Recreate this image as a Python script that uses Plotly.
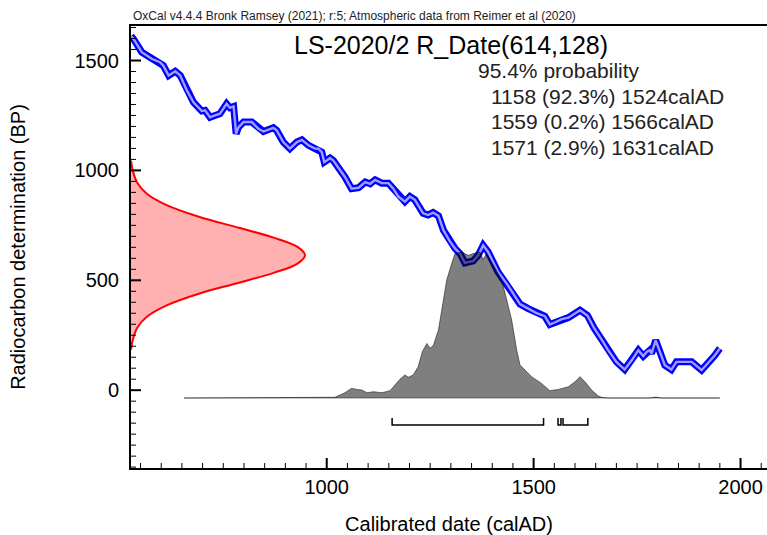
import plotly.graph_objects as go

# ---------------- data ----------------
# IntCal20 calibration curve (calendar year AD, radiocarbon age BP)
cal_year = [527, 533, 553, 577, 597, 605, 618, 634, 646, 662, 678, 698, 706, 718, 730, 742, 758, 766, 775,
            781, 787, 799, 819, 835, 847, 871, 879, 895, 911, 928, 940, 956, 972, 980, 988, 994, 1000,
            1008, 1016, 1028, 1044, 1060, 1077, 1093, 1105, 1117, 1133, 1149, 1161, 1173, 1189, 1201,
            1213, 1233, 1245, 1257, 1270, 1282, 1298, 1310, 1322, 1334, 1354, 1366, 1378, 1390, 1414,
            1435, 1455, 1467, 1487, 1507, 1527, 1539, 1551, 1568, 1584, 1612, 1630, 1646, 1664, 1680,
            1700, 1720, 1737, 1753, 1765, 1773, 1781, 1785, 1795, 1801, 1817, 1833, 1845, 1882, 1906,
            1938, 1950]
cal_bp = [1612, 1598, 1538, 1508, 1492, 1477, 1432, 1451, 1432, 1364, 1310, 1270, 1273, 1242, 1250, 1258,
          1303, 1285, 1291, 1167, 1197, 1220, 1220, 1189, 1177, 1194, 1182, 1129, 1099, 1129, 1139, 1114,
          1099, 1099, 1083, 1038, 1045, 1056, 1045, 1015, 970, 917, 921, 947, 939, 957, 942, 942, 917,
          881, 858, 881, 866, 805, 797, 808, 793, 728, 676, 645, 622, 579, 588, 614, 659, 629, 538, 485,
          424, 392, 371, 351, 337, 299, 308, 323, 330, 364, 340, 283, 231, 182, 129, 94, 136, 182, 155,
          174, 182, 167, 227, 197, 114, 94, 129, 129, 91, 159, 190]

# Calibrated probability distribution (calendar year AD, relative probability)
post_year = [655, 1000, 1020, 1044, 1060, 1072, 1085, 1097, 1113, 1133, 1153, 1165, 1177, 1189, 1197, 1209,
             1221, 1231, 1242, 1250, 1258, 1270, 1278, 1290, 1302, 1310, 1326, 1342, 1358, 1370, 1378,
             1386, 1403, 1423, 1435, 1447, 1459, 1467, 1479, 1495, 1519, 1539, 1560, 1584, 1600, 1612,
             1624, 1640, 1656, 1664, 1680, 1780, 1795, 1810, 1950]
post_prob = [0.0, 0.0, 0.005, 0.036, 0.066, 0.059, 0.055, 0.036, 0.043, 0.036, 0.050, 0.089, 0.128, 0.158,
             0.142, 0.158, 0.214, 0.317, 0.374, 0.340, 0.363, 0.466, 0.603, 0.808, 0.922, 0.990, 1.0,
             0.977, 0.993, 1.0, 0.948, 0.990, 0.910, 0.808, 0.671, 0.534, 0.329, 0.226, 0.192, 0.146,
             0.100, 0.050, 0.059, 0.077, 0.111, 0.146, 0.111, 0.055, 0.014, 0.005, 0.0, 0.0, 0.006, 0.0, 0.0]

# Radiocarbon measurement R_Date(614,128) (BP, relative density)
rc_bp = [1044, 994, 944, 894, 842, 789, 739, 694, 652, 614, 576, 534, 489, 439, 386, 334, 284, 234, 184]
rc_dens = [0.0, 0.012, 0.036, 0.091, 0.205, 0.39, 0.62, 0.82, 0.957, 1.0, 0.957, 0.82, 0.62, 0.39, 0.205,
           0.091, 0.036, 0.012, 0.0]

# 95.4% probability ranges
range_start = [1158, 1559, 1571]
range_end = [1524, 1566, 1631]
range_pct = ["92.3%", "0.2%", "2.9%"]

# axis tick values
x_major = [1000, 1500, 2000]
y_major = [0, 500, 1000, 1500]
MINOR_STEP = 50

sample_title = "LS-2020/2 R_Date(614,128)"
header = "OxCal v4.4.4 Bronk Ramsey (2021); r:5; Atmospheric data from Reimer et al (2020)"
prob_label = "95.4% probability"

# ---------------- layout constants (pixels) ----------------
W, H = 767, 535
L, R, T, B = 131, 0, 26, 67
PW, PH = W - L - R, H - T - B
X_PER_PX = 1 / 0.4138
XR = [527, 527 + PW * X_PER_PX]
YR = [-354, 1657]
BP_PER_PX = (YR[1] - YR[0]) / PH
FONT = "Arial, Liberation Sans, sans-serif"


def px_x(p):
    return (p - L) / PW


def px_y(p):
    return (H - B - p) / PH


def bp_at(py):
    return YR[0] + (H - B - py) * BP_PER_PX


# gray distribution: baseline at pixel 398, peak at pixel 252
g_base = bp_at(398)
g_scale = bp_at(252) - g_base
# red distribution: zero at the left axis, peak at pixel 305
r_base = XR[0]
r_scale = (305 - L) * X_PER_PX

fig = go.Figure()

# radiocarbon measurement (red)
fig.add_trace(go.Scatter(x=[r_base + d * r_scale for d in rc_dens], y=rc_bp, mode="lines",
                         line=dict(color="#ff0000", width=2, shape="spline"),
                         fill="tozerox", fillcolor="rgba(255,80,80,0.45)", hoverinfo="skip"))

# calibration curve (blue band)
fig.add_trace(go.Scatter(x=cal_year, y=cal_bp, mode="lines",
                         line=dict(color="#0000ff", width=7), hoverinfo="skip"))
fig.add_trace(go.Scatter(x=cal_year, y=cal_bp, mode="lines",
                         line=dict(color="#9d9dff", width=2.4), hoverinfo="skip"))

# range brackets
bx, by = [], []
for s, e in zip(range_start, range_end):
    bx += [s, s, e, e, None]
    by += [bp_at(418), bp_at(425), bp_at(425), bp_at(418), None]
fig.add_trace(go.Scatter(x=bx, y=by, mode="lines", line=dict(color="#000000", width=1.5),
                         hoverinfo="skip"))

# calibrated distribution (gray, translucent over the curve)
g_y = [g_base + p * g_scale for p in post_prob]
fig.add_trace(go.Scatter(x=post_year, y=[g_base] * len(post_year), mode="lines",
                         line=dict(color="rgba(0,0,0,0)", width=0), hoverinfo="skip"))
fig.add_trace(go.Scatter(x=post_year, y=g_y, mode="lines",
                         line=dict(color="rgba(0,0,0,0.5)", width=1),
                         fill="tonexty", fillcolor="rgba(0,0,0,0.5)", hoverinfo="skip"))
fig.add_trace(go.Scatter(x=post_year, y=[g_base] * len(post_year), mode="lines",
                         line=dict(color="rgba(0,0,0,0.45)", width=1), hoverinfo="skip"))

fig.update_layout(
    template="none",
    width=W, height=H, margin=dict(l=L, r=R, t=T, b=B, autoexpand=False),
    paper_bgcolor="white", plot_bgcolor="white", showlegend=False,
    font=dict(family=FONT, color="#000000", size=20),
    xaxis=dict(range=XR, showgrid=False, zeroline=False,
               showline=True, linecolor="#000000", linewidth=2, mirror=True,
               ticks="", tickvals=x_major, tickfont=dict(size=20, color="#000000"),
               title=dict(text="Calibrated date (calAD)", font=dict(size=20), standoff=22)),
    yaxis=dict(range=YR, showgrid=False, zeroline=False,
               showline=True, linecolor="#000000", linewidth=2,
               ticks="", tickvals=y_major, tickfont=dict(size=20, color="#000000"),
               ticklabelstandoff=6,
               title=dict(text="Radiocarbon determination (BP)", font=dict(size=20), standoff=44)),
)

# tick marks drawn inside the axes (major long, minor short)
shapes = []
xm = int(XR[0] // MINOR_STEP + 1) * MINOR_STEP
while xm < XR[1]:
    ln = 10 if xm in x_major else 5
    wd = 2 if xm in x_major else 1
    shapes.append(dict(type="line", xref="x", yref="paper", x0=xm, x1=xm, y0=0, y1=ln / PH,
                       line=dict(color="#000000", width=wd)))
    xm += MINOR_STEP
ym = int(YR[0] // MINOR_STEP + 1) * MINOR_STEP
while ym < YR[1]:
    ln = 10 if ym in y_major else 5
    wd = 2 if ym in y_major else 1
    shapes.append(dict(type="line", xref="paper", yref="y", x0=0, x1=ln / PW, y0=ym, y1=ym,
                       line=dict(color="#000000", width=wd)))
    ym += MINOR_STEP
fig.update_layout(shapes=shapes)

ann = [
    dict(text=header, x=px_x(131), y=px_y(25), xanchor="left", yanchor="bottom",
         font=dict(size=12, color="#222222")),
    dict(text=sample_title, x=px_x(451), y=px_y(45), xanchor="center", yanchor="middle",
         font=dict(size=25, color="#000000")),
    dict(text=prob_label, x=px_x(476), y=px_y(70), xanchor="left", yanchor="middle",
         font=dict(size=21, color="#222222")),
]
for i, (s, e, p) in enumerate(zip(range_start, range_end, range_pct)):
    ann.append(dict(text=f"{s} ({p}) {e}calAD", x=px_x(489), y=px_y(96 + 25.7 * i),
                    xanchor="left", yanchor="middle", font=dict(size=21, color="#222222")))
for a in ann:
    a.update(xref="paper", yref="paper", showarrow=False)
fig.update_layout(annotations=ann)

fig.write_html("out.html", config={"displayModeBar": False},
               post_script="document.body.style.margin='0px';document.body.style.overflow='hidden';")
